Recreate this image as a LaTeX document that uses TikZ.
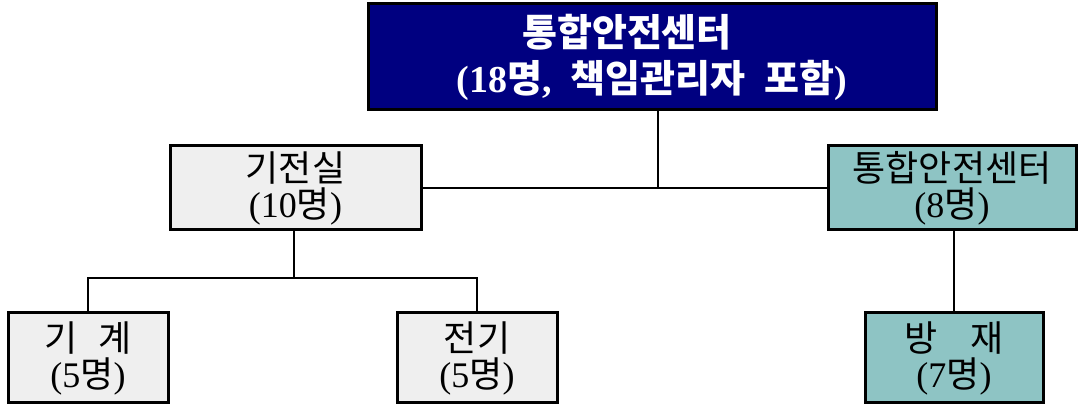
\documentclass[tikz,border=0pt]{standalone}
\usepackage{fontspec}
\setmainfont{Liberation Serif}
\newfontfamily\kr{Noto Sans CJK KR}
\definecolor{navyfill}{RGB}{0,0,128}
\definecolor{grayfill}{RGB}{239,239,239}
\definecolor{tealfill}{RGB}{142,196,196}

\begin{document}
\begin{tikzpicture}[x=0.5pt,y=-0.5pt,
  unit/.style={rectangle,draw,line width=1.5pt,align=center,inner sep=0pt,
    font=\fontsize{18}{18}\selectfont},
  link/.style={line width=1pt}]
\useasboundingbox (0,0) rectangle (1078,405);

\path (652,57) node[unit,fill=navyfill,text=white,minimum width=284pt,minimum height=53pt,
  font=\bfseries\fontsize{19}{23}\selectfont] (center)
  {{\kr 통합안전센터}\hspace{25pt}\mbox{}\\(18{\kr 명},\hspace{0.5em}{\kr 책임관리자\hspace{0.5em}포함})};

\path (295.5,188) node[unit,fill=grayfill,minimum width=125.5pt,minimum height=42pt] (gijeon)
  {{\kr 기전실}\\(10{\kr 명})};
\path (952,188) node[unit,fill=tealfill,minimum width=124pt,minimum height=42pt] (safety)
  {{\kr 통합안전센터}\\(8{\kr 명})};

\path (88,358) node[unit,fill=grayfill,minimum width=80pt,minimum height=45pt] (gigye)
  {{\kr 기\hspace{0.6em}계}\\(5{\kr 명})};
\path (477,358) node[unit,fill=grayfill,minimum width=80pt,minimum height=45pt] (jeongi)
  {{\kr 전기}\\(5{\kr 명})};
\path (954,358) node[unit,fill=tealfill,minimum width=89pt,minimum height=45pt] (bangjae)
  {{\kr 방\hspace{0.9em}재}\\(7{\kr 명})};

\coordinate (fork) at (294,278);
\draw[link] (gijeon.east) -- (safety.west);
\draw[link] ([xshift=3pt]center.south) -- ([xshift=3pt]center.south |- gijeon.east);
\draw[link] (gijeon.south -| fork) -- (fork);
\draw[link] (gigye.north) |- (fork) -| (jeongi.north);
\draw[link] (bangjae.north) -- (bangjae.north |- safety.south);
\end{tikzpicture}
\end{document}
